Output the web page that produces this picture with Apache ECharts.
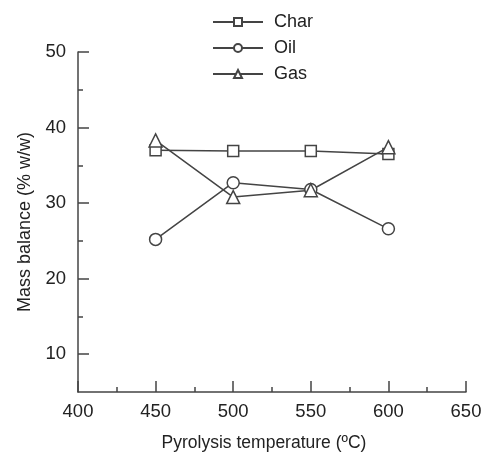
<!DOCTYPE html>
<html lang="en">
<head>
    <meta charset="UTF-8">
    <title>Mass balance vs pyrolysis temperature</title>
    <script src="https://cdn.jsdelivr.net/npm/echarts@6/dist/echarts.min.js"></script>
</head>
<body style="margin:0">
<div id="chart" style="width:484px;height:455px;"></div>
<script type="text/javascript">
    // values
    var temps = [450, 500, 550, 600]
    var charVals = [37.0, 36.9, 36.9, 36.5]
    var oilVals = [25.2, 32.7, 31.8, 26.6]
    var gasVals = [38.3, 30.8, 31.7, 37.4]
    var yMajor = [10, 20, 30, 40, 50]
    var yMinor = [15, 25, 35, 45]

    var ink = '#444'
    var font = 'Arial, "Liberation Sans", sans-serif'

    function pts(vals) {
        var out = []
        for (let i = 0; i < temps.length; i++) out.push([temps[i], vals[i]])
        return out
    }

    function line(name, symbol, size, vals) {
        return {
            name: name,
            type: 'line',
            data: pts(vals),
            symbol: symbol,
            symbolSize: size,
            showAllSymbol: true,
            lineStyle: { color: ink, width: 1.5 },
            itemStyle: { color: '#fff', borderColor: ink, borderWidth: 1.5 },
            emphasis: { disabled: true }
        }
    }

    var option = {
        animation: false,
        textStyle: { fontFamily: font },
        legend: {
            orient: 'vertical',
            left: 207,
            top: 7,
            itemWidth: 50,
            itemHeight: 10,
            itemGap: 6,
            data: ['Char', 'Oil', 'Gas'],
            textStyle: { fontSize: 18, color: '#222', lineHeight: 20, padding: [0, 0, 0, 6], fontFamily: font }
        },
        grid: { left: 78, right: 18, top: 52, bottom: 63, outerBoundsMode: 'none' },
        xAxis: {
            type: 'value',
            min: 400,
            max: 650,
            interval: 50,
            name: 'Pyrolysis temperature (ºC)',
            nameLocation: 'middle',
            nameGap: 42,
            nameTextStyle: { fontSize: 17.5, color: '#222', padding: [0, 16, 0, 0] },
            axisLine: { lineStyle: { color: ink, width: 1.5 } },
            axisTick: { inside: true, length: 11, lineStyle: { color: ink, width: 1.5 } },
            minorTick: { show: true, splitNumber: 2, length: 5, lineStyle: { color: ink, width: 1.5 } },
            axisLabel: { fontSize: 18.5, color: '#222', margin: 10 },
            splitLine: { show: false }
        },
        yAxis: [{
            type: 'value',
            min: 5,
            max: 50,
            position: 'left',
            name: 'Mass balance (% w/w)',
            nameLocation: 'middle',
            nameGap: 44,
            nameTextStyle: { fontSize: 18, color: '#222' },
            axisLine: { show: true, lineStyle: { color: ink, width: 1.5 } },
            axisTick: { show: true, inside: true, length: 11, customValues: yMajor, lineStyle: { color: ink, width: 1.5 } },
            axisLabel: { fontSize: 18.5, color: '#222', margin: 12, customValues: yMajor },
            splitLine: { show: false }
        }, {
            type: 'value',
            min: 5,
            max: 50,
            position: 'left',
            axisLine: { show: false },
            axisTick: { show: true, inside: true, length: 5, customValues: yMinor, lineStyle: { color: ink, width: 1.5 } },
            axisLabel: { show: false },
            splitLine: { show: false }
        }],
        series: [
            line('Char', 'rect', 11, charVals),
            line('Oil', 'circle', 12, oilVals),
            line('Gas', 'triangle', 13, gasVals)
        ]
    };

    var myChart = echarts.init(document.getElementById('chart'));
    myChart.setOption(option);
</script>
</body>
</html>
